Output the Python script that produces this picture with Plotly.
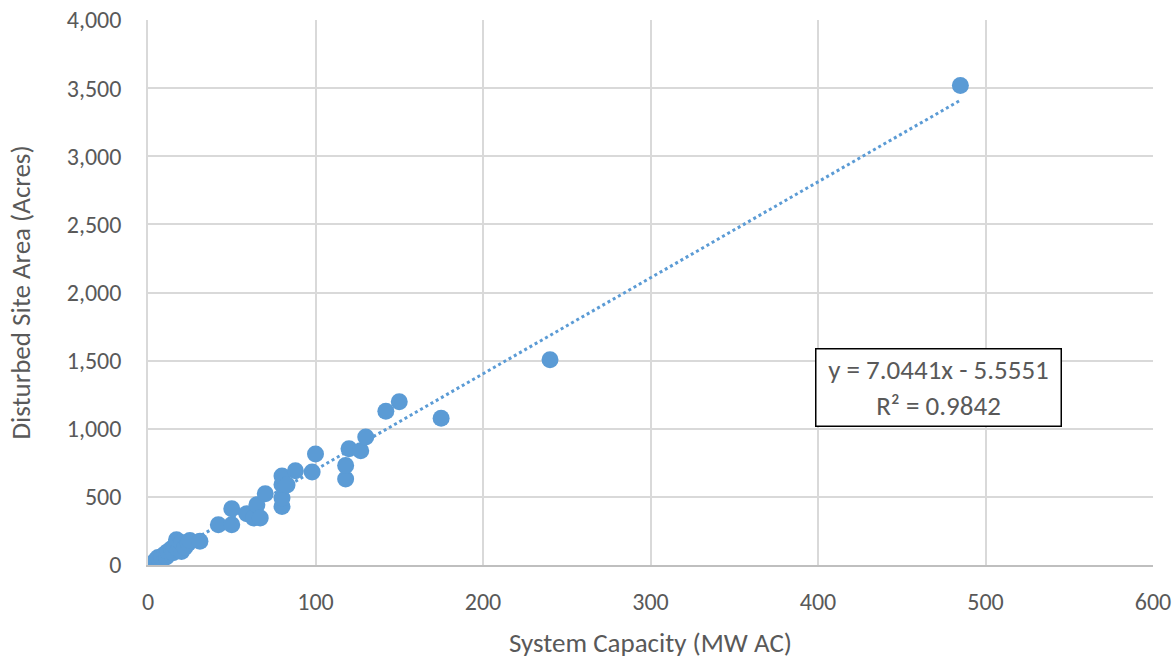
import plotly.graph_objects as go

# Data
capacity_mw = [4, 5, 6, 8, 10, 11, 12, 14, 15, 16, 17, 18, 19, 20, 20, 22, 24, 25, 31,
               42, 50, 50, 59, 63, 65, 67, 70,
               80, 80, 80, 80, 83, 88, 98, 100,
               118, 118, 120, 127, 130, 142, 150, 175, 240, 485]
area_acres = [25, 40, 55, 60, 80, 60, 100, 120, 90, 140, 185, 110, 150, 100, 165, 130, 160, 180, 175,
              296, 296, 413, 377, 345, 443, 345, 523,
              430, 492, 590, 653, 587, 692, 683, 815,
              631, 731, 854, 839, 940, 1128, 1199, 1077, 1507, 3520]

slope = 7.0441
intercept = -5.5551
r_squared = 0.9842

x_ticks = [0, 100, 200, 300, 400, 500, 600]
y_ticks = [0, 500, 1000, 1500, 2000, 2500, 3000, 3500, 4000]

blue = "#5B9BD5"
grey_text = "#595959"
font_family = "Carlito, Lato, 'Liberation Sans', sans-serif"
fsize = 27
tick_size = 24

x_min = min(capacity_mw)
x_max = max(capacity_mw)
trend_x = [x_min, x_max]
trend_y = [slope * v + intercept for v in trend_x]

fig = go.Figure()
fig.add_trace(go.Scatter(
    x=trend_x, y=trend_y, mode="lines",
    line=dict(color=blue, width=3, dash="dot"),
    showlegend=False, hoverinfo="skip"))
fig.add_trace(go.Scatter(
    x=capacity_mw, y=area_acres, mode="markers",
    marker=dict(color=blue, size=17, line=dict(width=0)),
    showlegend=False))

fig.add_annotation(
    xref="paper", yref="paper", x=0.7866, y=0.3248,
    xanchor="center", yanchor="middle",
    text=f"y = {slope}x - {abs(intercept)}<br>R² = {r_squared}",
    showarrow=False, align="center", width=236, height=68,
    font=dict(family=font_family, size=fsize, color=grey_text),
    bordercolor="black", borderwidth=1.5, bgcolor="white", borderpad=4)

fig.update_layout(
    width=1176, height=663,
    margin=dict(l=148, r=23, t=20, b=98),
    paper_bgcolor="white", plot_bgcolor="white",
    font=dict(family=font_family, size=fsize, color=grey_text),
    xaxis=dict(
        range=[0, 600], tickvals=x_ticks, ticktext=[f"{v:,}" for v in x_ticks],
        showgrid=True, gridcolor="#D9D9D9", gridwidth=1.5,
        zeroline=False, showline=True, linecolor="#BFBFBF", linewidth=1.5,
        ticks="", ticklabelstandoff=14, ticklabeloverflow="allow",
        tickfont=dict(size=tick_size), automargin=False,
        title=dict(text="System Capacity (MW AC)", font=dict(size=fsize, color=grey_text), standoff=19)),
    yaxis=dict(
        range=[0, 4000], tickvals=y_ticks, ticktext=[f"{v:,}" for v in y_ticks],
        showgrid=True, gridcolor="#D9D9D9", gridwidth=1.5,
        zeroline=False, showline=True, linecolor="#D9D9D9", linewidth=1.5,
        ticks="", ticklabelstandoff=20, ticklabeloverflow="allow",
        tickfont=dict(size=tick_size), automargin=False,
        title=dict(text="Disturbed Site Area (Acres)", font=dict(size=fsize, color=grey_text), standoff=28)),
)

fig.write_html("out.html", config={"displayModeBar": False},
               post_script="document.body.style.margin='0';")
